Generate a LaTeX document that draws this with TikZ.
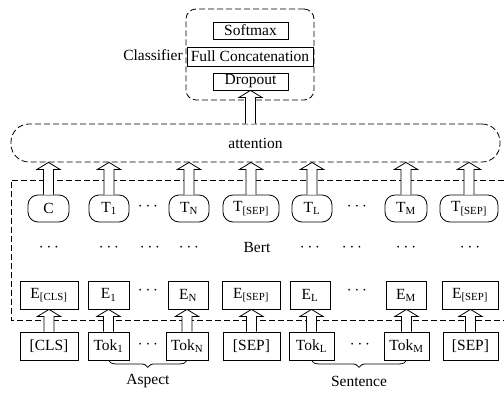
\documentclass[tikz,border=0pt]{standalone}
\usepackage{fontspec}
\setmainfont{Liberation Serif}
\newfontfamily\timesfam{Liberation Serif}
\usetikzlibrary{calc,decorations.pathreplacing}

% hollow block arrow from #1 (base) to #2 (tip)
\newcommand\hollowarrow[2]{%
  \draw[harrow] let \p1=#1, \p2=#2 in
    (\x1-5pt,\y1) -- (\x1-5pt,\y2-7pt) -- (\x1-11.5pt,\y2-7pt) -- (\x1,\y2)
    -- (\x1+11.5pt,\y2-7pt) -- (\x1+5pt,\y2-7pt) -- (\x1+5pt,\y1);}

\begin{document}
\begin{tikzpicture}[x=1pt,y=-1pt,
  font=\timesfam\fontsize{15.5}{18}\selectfont,
  thin line/.style={line width=0.8pt},
  dashbox/.style={draw, thin line, dash pattern=on 6pt off 3pt},
  clsbox/.style={draw, thin line, minimum width=75pt, minimum height=17pt, inner sep=0pt},
  tnode/.style={draw, thin line, rounded corners=10pt, minimum height=27pt, inner sep=0pt},
  ebox/.style={draw, thin line, minimum height=28pt, inner sep=0pt},
  harrow/.style={draw, thin line, fill=white, line join=miter},
  brace/.style={thin line, decorate, decoration={brace, mirror, amplitude=7pt}},
  dots/.style={inner sep=0pt, font=\timesfam\fontsize{17}{18}\selectfont}]
\useasboundingbox (0,0) rectangle (504,392);

% ---- classifier ----
\node[dashbox, rounded corners=10pt, minimum width=128pt, minimum height=91pt] (clsframe) at (250,54.5) {};
\node[clsbox] (soft) at (250.5,30.5) {Softmax};
\node[draw, thin line, minimum width=126pt, minimum height=19pt, inner sep=0pt, fill=white] (concat) at (250,56.5) {Full Concatenation};
\node[clsbox] (drop) at (250.5,81.5) {Dropout};
\node (clslabel) at (153,55) {Classifier};

% ---- attention ----
\node[dashbox, rounded corners=18pt, minimum width=489pt, minimum height=38pt] (att) at (255.5,143) {attention};

% ---- Bert frame ----
\draw[dashbox] (504,180) -- (11,180) -- (11,320) -- (504,320);
\node (bert) at (257,247) {Bert};

% ---- output tokens ----
\node[tnode, minimum width=41pt] (tc)   at (48.5,208.5) {C};
\node[tnode, minimum width=40pt] (t1)   at (109,208.5) {T\textsubscript{1}};
\node[tnode, minimum width=40pt] (tn)   at (189,208.5) {T\textsubscript{N}};
\node[tnode, minimum width=56pt] (ts1)  at (251,208.5) {T\textsubscript{[SEP]}};
\node[tnode, minimum width=40pt] (tl)   at (312,208.5) {T\textsubscript{L}};
\node[tnode, minimum width=42pt] (tm)   at (406,208.5) {T\textsubscript{M}};
\node[tnode, minimum width=58pt] (ts2)  at (469,208.5) {T\textsubscript{[SEP]}};
\node[dots] (td1) at (148,207) {$\cdots$};
\node[dots] (td2) at (357,207) {$\cdots$};

% ---- middle row ----
\node[dots] (m1) at (49,248) {$\cdots$};
\node[dots] (m2) at (109,248) {$\cdots$};
\node[dots] (m3) at (150,248) {$\cdots$};
\node[dots] (m4) at (189,248) {$\cdots$};
\node[dots] (m5) at (310,248) {$\cdots$};
\node[dots] (m6) at (352,248) {$\cdots$};
\node[dots] (m7) at (406,248) {$\cdots$};
\node[dots] (m8) at (470,248) {$\cdots$};

% ---- embeddings ----
\node[ebox, minimum width=58pt] (ecls) at (49,295) {E\textsubscript{[CLS]}};
\node[ebox, minimum width=41pt] (e1)   at (108.5,295) {E\textsubscript{1}};
\node[ebox, minimum width=40pt] (en)   at (188,295) {E\textsubscript{N}};
\node[ebox, minimum width=58pt] (es1)  at (251,295) {E\textsubscript{[SEP]}};
\node[ebox, minimum width=40pt] (el)   at (310,295) {E\textsubscript{L}};
\node[ebox, minimum width=40pt] (em)   at (406,295) {E\textsubscript{M}};
\node[ebox, minimum width=56pt] (es2)  at (470,295) {E\textsubscript{[SEP]}};
\node[dots] (ed1) at (148,291) {$\cdots$};
\node[dots] (ed2) at (357,291) {$\cdots$};

% ---- input tokens ----
\node[ebox, minimum width=58pt] (cls)  at (49,346) {[CLS]};
\node[ebox, minimum width=41pt] (tok1) at (108.5,346) {Tok\textsubscript{1}};
\node[ebox, minimum width=42pt] (tokn) at (187,346) {Tok\textsubscript{N}};
\node[ebox, minimum width=57pt] (sep1) at (251.5,346) {[SEP]};
\node[ebox, minimum width=45pt] (tokl) at (311.5,346) {Tok\textsubscript{L}};
\node[ebox, minimum width=45pt] (tokm) at (406.5,346) {Tok\textsubscript{M}};
\node[ebox, minimum width=55pt] (sep2) at (470.5,346) {[SEP]};
\node[dots] (id1) at (148,345) {$\cdots$};
\node[dots] (id2) at (360,345) {$\cdots$};

% ---- arrows: input -> embeddings ----
\hollowarrow{(cls.north)}{(cls.north |- ecls.south)}
\hollowarrow{(tok1.north)}{(tok1.north |- e1.south)}
\hollowarrow{(tokn.north)}{(tokn.north |- en.south)}
\hollowarrow{(sep1.north)}{(sep1.north |- es1.south)}
\hollowarrow{(tokl.north)}{(tokl.north |- el.south)}
\hollowarrow{(tokm.north)}{(tokm.north |- em.south)}
\hollowarrow{(sep2.north)}{(sep2.north |- es2.south)}

% ---- arrows: outputs -> attention ----
\hollowarrow{(tc.north)}{(tc.north |- att.south)}
\hollowarrow{(t1.north)}{(t1.north |- att.south)}
\hollowarrow{(tn.north)}{(tn.north |- att.south)}
\hollowarrow{(ts1.north)}{(ts1.north |- att.south)}
\hollowarrow{(tl.north)}{(tl.north |- att.south)}
\hollowarrow{(tm.north)}{(tm.north |- att.south)}
\hollowarrow{(ts2.north)}{(ts2.north |- att.south)}

% ---- attention -> classifier ----
\hollowarrow{(drop.south |- att.north)}{(drop.south)}

% ---- braces ----
\draw[brace] (tok1.south) -- (tokn.south);
\draw[brace] (tokl.south) -- (tokm.south);
\node (aspect) at (148,381) {Aspect};
\node (sentence) at (359,381) {Sentence};
\end{tikzpicture}
\end{document}
